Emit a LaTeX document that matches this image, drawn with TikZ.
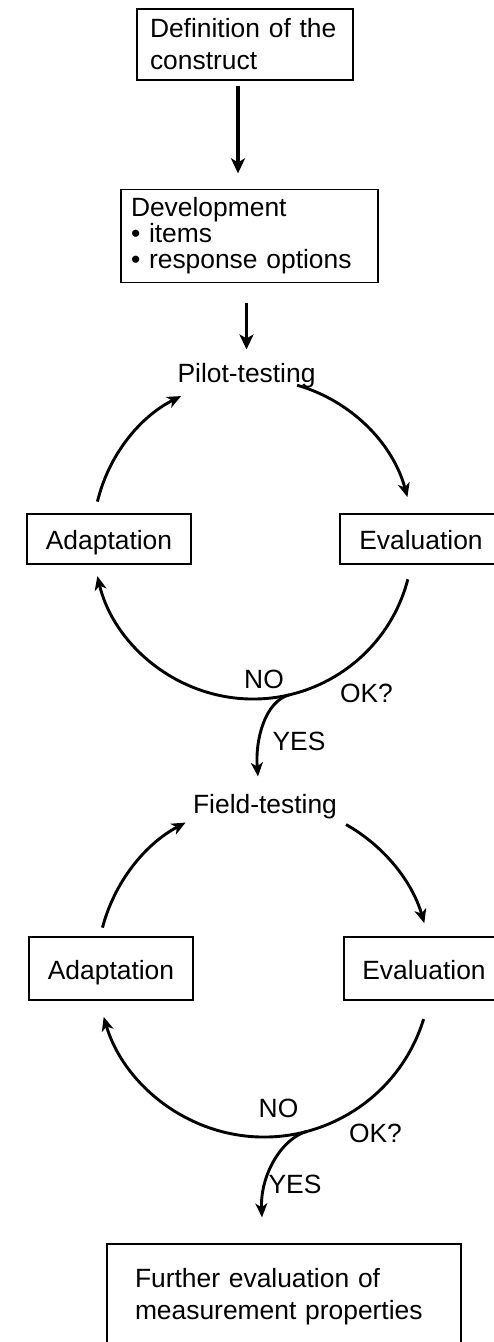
\documentclass[tikz,border=0pt]{standalone}
\usepackage{fontspec}
\setmainfont{Liberation Sans}
\usetikzlibrary{arrows.meta}

\tikzset{
  box/.style={draw, line width=0.65pt, inner ysep=0pt},
  tbox/.style={box, align=left, inner xsep=#1},
  sbox/.style={box, text height=10.5pt, text depth=0pt},
  lbl/.style={inner sep=0pt, anchor=base},
  cycarrow/.style={line width=1.45pt, -{Stealth[length=7pt,width=6pt,inset=2pt]}},
  mainarrow/.style={line width=1.8pt, -{Stealth[length=7.5pt,width=7pt,inset=2pt]}}
}

\begin{document}
\begin{tikzpicture}[x=0.5pt, y=0.5pt, font=\fontsize{13.2}{16}\selectfont]
        % one unit is one pixel of the page, y runs downwards as negative numbers
        \useasboundingbox (0,0) rectangle (493,-1342);

        \node[tbox=6.5pt, text width=95pt, minimum height=35.5pt] (def) at (245,-44.5) {Definition of the\\construct};
        \node[tbox=5pt, text width=118.5pt, minimum height=46.5pt, font=\fontsize{13.2}{13}\selectfont] (dev) at (249.5,-236)
            {Development\\\textbullet\ items\\\textbullet\ response options};

        % first loop
        \node[lbl] (pilot) at (246.5,-382) {Pilot-testing};
        \node[sbox, minimum width=82pt, minimum height=25pt] (adapt1) at (109,-539) {Adaptation};
        \node[sbox, minimum width=81pt, minimum height=25pt] (eval1) at (421,-539) {Evaluation};
        \node[lbl] (no1) at (264,-688) {NO};
        \node[lbl] (ok1) at (366.5,-702) {OK?};
        \node[lbl] (yes1) at (299,-750) {YES};

        % second loop
        \node[lbl] (field) at (265,-813) {Field-testing};
        \node[sbox, minimum width=82pt, minimum height=31.5pt] (adapt2) at (111,-968.5) {Adaptation};
        \node[sbox, minimum width=80pt, minimum height=31.5pt] (eval2) at (424,-968.5) {Evaluation};
        \node[lbl] (no2) at (278.5,-1117) {NO};
        \node[lbl] (ok2) at (375.5,-1142) {OK?};
        \node[lbl] (yes2) at (295,-1193) {YES};

        \node[tbox=14pt, text width=149pt, minimum height=53pt] (further) at (284,-1297)
            {Further evaluation of\\measurement properties};

        % straight arrows at the top
        \draw[mainarrow, shorten <=2.5pt, shorten >=7.75pt] ([xshift=-3.5pt]def.south) -- ([xshift=-3.5pt]def.south |- dev.north);
        \draw[mainarrow, shorten <=9.75pt, shorten >=6.5pt] (dev.south -| pilot.north) -- (pilot.north);

        % the two cycles: centre, radius and the angles of the three arcs
        \coordinate (c1) at (253,-539);
        \coordinate (c2) at (264,-970);
        \foreach \n/\r/\a/\b/\c/\d/\e/\f in {1/160/166.5/116.7/74/15.2/-14.6/-166.6,
                                           2/167/165.3/118/60.6/16.3/-17.1/-163.7} {
            \draw[cycarrow] ([shift={(\a:\r)}]c\n) arc[start angle=\a, end angle=\b, radius=\r];
            \draw[cycarrow] ([shift={(\c:\r)}]c\n) arc[start angle=\c, end angle=\d, radius=\r];
            \draw[cycarrow] ([shift={(\e:\r)}]c\n) arc[start angle=\e, end angle=\f, radius=\r];
        }

        % YES branches leaving the bottom of each cycle
        \draw[cycarrow] ([shift={(-76.8:160)}]c1) .. controls (265,-701) and (255,-740) .. ([xshift=-3.5pt, yshift=8.5pt]field.north);
        \draw[cycarrow] ([shift={(-75:167)}]c2) .. controls (282,-1138) and (260,-1175) .. ([xshift=-11pt, yshift=13pt]further.north);
    \end{tikzpicture}
\end{document}
